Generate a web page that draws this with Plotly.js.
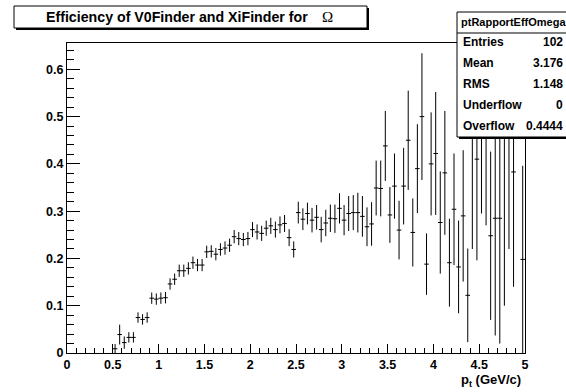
<!DOCTYPE html>
<html>
<head>
<meta charset="utf-8">
<script src="https://cdn.plot.ly/plotly-3.0.1.min.js"></script>
<style>html,body{margin:0;padding:0;background:#fff;}#chart{width:566px;height:392px;}</style>
</head>
<body>
<div id="chart"></div>
<script>
// ---- data ----
const binCenters = [0.525,0.575,0.625,0.675,0.725,0.775,0.825,0.875,0.925,0.975,
  1.025,1.075,1.125,1.175,1.225,1.275,1.325,1.375,1.425,1.475,
  1.525,1.575,1.625,1.675,1.725,1.775,1.825,1.875,1.925,1.975,
  2.025,2.075,2.125,2.175,2.225,2.275,2.325,2.375,2.425,2.475,
  2.525,2.575,2.625,2.675,2.725,2.775,2.825,2.875,2.925,2.975,
  3.025,3.075,3.125,3.175,3.225,3.275,3.325,3.375,3.425,3.475,
  3.525,3.575,3.625,3.675,3.725,3.775,3.825,3.875,3.925,3.975,
  4.025,4.075,4.125,4.175,4.225,4.275,4.325,4.375,4.425,4.475,
  4.525,4.575,4.625,4.675,4.725,4.775,4.825,4.875,4.975];
const effValues = [0.009,0.039,0.022,0.033,0.033,0.075,0.071,0.075,0.116,0.114,
  0.116,0.117,0.146,0.156,0.174,0.174,0.179,0.191,0.186,0.186,
  0.214,0.215,0.209,0.219,0.222,0.228,0.246,0.242,0.240,0.242,
  0.261,0.256,0.253,0.264,0.269,0.261,0.271,0.274,0.244,0.219,
  0.297,0.283,0.295,0.281,0.287,0.261,0.275,0.285,0.284,0.306,
  0.281,0.295,0.297,0.297,0.289,0.267,0.273,0.349,0.348,0.438,
  0.292,0.353,0.260,0.353,0.450,0.255,0.390,0.500,0.188,0.400,
  0.422,0.276,0.381,0.191,0.304,0.182,0.290,0.122,0.500,0.410,
  0.550,0.600,0.248,0.285,0.285,0.500,0.500,0.383,0.198];
const effErrors = [0.010,0.021,0.013,0.011,0.011,0.011,0.011,0.011,0.012,0.012,
  0.012,0.012,0.012,0.012,0.013,0.013,0.013,0.013,0.013,0.013,
  0.013,0.013,0.013,0.013,0.014,0.014,0.014,0.014,0.014,0.014,
  0.016,0.016,0.016,0.016,0.017,0.017,0.018,0.018,0.018,0.017,
  0.023,0.023,0.023,0.026,0.026,0.027,0.028,0.029,0.030,0.032,
  0.032,0.037,0.037,0.042,0.043,0.041,0.046,0.058,0.059,0.074,
  0.059,0.069,0.062,0.081,0.105,0.072,0.094,0.134,0.065,0.109,
  0.130,0.108,0.131,0.093,0.118,0.098,0.139,0.099,0.280,0.214,
  0.255,0.330,0.178,0.248,0.265,0.400,0.280,0.243,0.198];
const binHalfWidth = 0.025;

const titleMain = 'Efficiency of V0Finder and XiFinder for';
const titleSymbol = 'Ω';
const xLabel = 'p<sub>t</sub> (GeV/c)';
const statsHeader = 'ptRapportEffOmega';
const statsNames = ['Entries','Mean','RMS','Underflow','Overflow'];
const statsValues = ['102','3.176','1.148','0','0.4444'];

// ---- layout helpers (pixel -> paper) ----
const W = 566, H = 392, L = 67, R = 525, T = 43, B = 353;
const xp = px => (px - L) / (R - L);
const yp = py => (B - py) / (B - T);
const FONT = 'Arial, "Liberation Sans", sans-serif';

const trace = {
  type: 'scatter', mode: 'markers',
  x: binCenters, y: effValues,
  marker: {size: 2, color: 'rgba(0,0,0,0)'},
  error_y: {type: 'data', array: effErrors, visible: true, width: 0, thickness: 1, color: '#000'},
  error_x: {type: 'constant', value: binHalfWidth, visible: true, width: 0, thickness: 1, color: '#000'},
  hoverinfo: 'x+y', showlegend: false
};

const shapes = [];
const annotations = [];

// title box with shadow
shapes.push({type:'rect', xref:'paper', yref:'paper', x0:xp(16), x1:xp(369), y0:yp(8), y1:yp(30),
  fillcolor:'#000', line:{width:0}, layer:'above'});
shapes.push({type:'rect', xref:'paper', yref:'paper', x0:xp(14), x1:xp(367), y0:yp(6), y1:yp(28),
  fillcolor:'#fff', line:{color:'#000', width:1}, layer:'above'});
annotations.push({xref:'paper', yref:'paper', x:xp(44), y:yp(17), xanchor:'left', yanchor:'middle',
  text:titleMain, showarrow:false, font:{family:FONT, size:14.2, color:'#000', weight:'bold'}});
annotations.push({xref:'paper', yref:'paper', x:xp(327), y:yp(16.5), xanchor:'center', yanchor:'middle',
  text:titleSymbol, showarrow:false, font:{family:'"Liberation Serif", serif', size:15, color:'#000'}});

// stats box with shadow
shapes.push({type:'rect', xref:'paper', yref:'paper', x0:xp(459), x1:xp(572), y0:yp(14), y1:yp(139),
  fillcolor:'#000', line:{width:0}, layer:'above'});
shapes.push({type:'rect', xref:'paper', yref:'paper', x0:xp(457), x1:xp(570), y0:yp(12), y1:yp(137),
  fillcolor:'#fff', line:{color:'#000', width:1}, layer:'above'});
shapes.push({type:'line', xref:'paper', yref:'paper', x0:xp(457), x1:xp(570), y0:yp(33), y1:yp(33),
  line:{color:'#000', width:1}, layer:'above'});
annotations.push({xref:'paper', yref:'paper', x:xp(459), y:yp(22.5), xanchor:'left', yanchor:'middle',
  text:statsHeader, showarrow:false, font:{family:FONT, size:11, color:'#000', weight:'bold'}});
const rowY = [42.5, 63, 83.5, 104.5, 126];
statsNames.forEach((n, i) => {
  annotations.push({xref:'paper', yref:'paper', x:xp(461), y:yp(rowY[i]), xanchor:'left', yanchor:'middle',
    text:n, showarrow:false, font:{family:FONT, size:12, color:'#000', weight:'bold'}});
  annotations.push({xref:'paper', yref:'paper', x:xp(565), y:yp(rowY[i]), xanchor:'right', yanchor:'middle',
    text:statsValues[i], showarrow:false, font:{family:FONT, size:12, color:'#000', weight:'bold'}});
});

// x axis label
annotations.push({xref:'paper', yref:'paper', x:xp(523), y:yp(380), xanchor:'right', yanchor:'middle',
  text:xLabel, showarrow:false, font:{family:FONT, size:13, color:'#000', weight:'bold'}});

const layout = {
  width: W, height: H,
  margin: {l: L, r: W - R, t: T, b: H - B, pad: 0},
  paper_bgcolor: '#fff', plot_bgcolor: '#fff',
  font: {family: FONT, color: '#000'},
  xaxis: {
    range: [0, 5], dtick: 0.5, tick0: 0,
    showgrid: false, zeroline: false,
    showline: true, linecolor: '#000', linewidth: 1, mirror: true,
    ticks: 'inside', ticklen: 9, tickwidth: 1, tickcolor: '#000',
    tickfont: {family: FONT, size: 12.5, color: '#000', weight: 'bold'},
    minor: {dtick: 0.1, tick0: 0, ticks: 'inside', ticklen: 5, tickwidth: 1, tickcolor: '#000', showgrid: false}
  },
  yaxis: {
    range: [0, 0.6557], dtick: 0.1, tick0: 0,
    showgrid: false, zeroline: false,
    showline: true, linecolor: '#000', linewidth: 1, mirror: true,
    ticks: 'inside', ticklen: 13, tickwidth: 1, tickcolor: '#000',
    tickfont: {family: FONT, size: 12.5, color: '#000', weight: 'bold'},
    minor: {dtick: 0.02, tick0: 0, ticks: 'inside', ticklen: 7, tickwidth: 1, tickcolor: '#000', showgrid: false}
  },
  shapes: shapes,
  annotations: annotations,
  showlegend: false
};

Plotly.newPlot('chart', [trace], layout, {displayModeBar: false, staticPlot: true});
</script>
</body>
</html>
